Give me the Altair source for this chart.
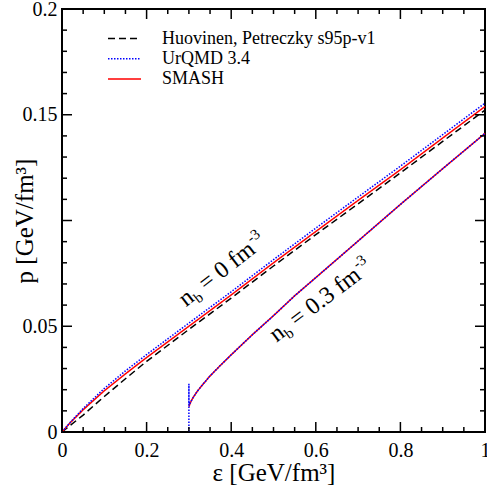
import altair as alt
import pandas as pd

# ---------------- data ----------------
series_names = ["Huovinen, Petreczky s95p-v1", "UrQMD 3.4", "SMASH"]
series_colors = ["#000000", "#0000ff", "#ff0000"]
series_dash = [[7, 4], [1.5, 1.5], [1, 0]]

# n_b = 0 fm^-3
eps0 = [0, 0.02, 0.05, 0.1, 0.15, 0.2, 0.3, 0.4, 0.5, 0.6, 0.7, 0.8, 0.9, 1.0]
p_huov0 = [0, 0.0032, 0.0080, 0.0168, 0.0252, 0.0334, 0.0485, 0.0633, 0.0785, 0.0933, 0.1079, 0.1225, 0.1374, 0.1522]
p_urqmd0 = [0, 0.0047, 0.0111, 0.0206, 0.0289, 0.0366, 0.0515, 0.0663, 0.0815, 0.0964, 0.1111, 0.1257, 0.1406, 0.1555]
p_smash0 = [0, 0.0045, 0.0105, 0.0195, 0.0275, 0.0352, 0.0500, 0.0648, 0.0800, 0.0948, 0.1095, 0.1240, 0.1390, 0.1539]

# n_b = 0.3 fm^-3
eps3_smash = [0.3, 0.305, 0.31, 0.32, 0.335, 0.35, 0.375, 0.4, 0.45, 0.5, 0.55, 0.6, 0.7, 0.8, 0.9, 1.0]
p3_smash = [0.012, 0.0145, 0.0163, 0.0193, 0.023, 0.0265, 0.0316, 0.0365, 0.046, 0.055, 0.0644, 0.073, 0.0903, 0.1076, 0.1245, 0.1412]
eps3_urqmd = [0.3, 0.3, 0.3, 0.305, 0.31, 0.32, 0.335, 0.35, 0.375, 0.4, 0.45, 0.5, 0.55, 0.6, 0.7, 0.8, 0.9, 1.0]
p3_urqmd = [0.0, 0.0228, 0.0125, 0.0145, 0.0163, 0.0193, 0.023, 0.0265, 0.0316, 0.0365, 0.046, 0.055, 0.0644, 0.073, 0.0903, 0.1076, 0.1245, 0.1412]

# ticks
x_major = [0, 0.2, 0.4, 0.6, 0.8, 1.0]
x_minor = [0.05, 0.1, 0.15, 0.25, 0.3, 0.35, 0.45, 0.5, 0.55, 0.65, 0.7, 0.75, 0.85, 0.9, 0.95]
y_major = [0, 0.05, 0.1, 0.15, 0.2]
y_minor = [0.01, 0.02, 0.03, 0.04, 0.06, 0.07, 0.08, 0.09, 0.11, 0.12, 0.13, 0.14,
           0.16, 0.17, 0.18, 0.19]

# curve label anchors (eps, p) and texts
lab0_pos = (0.293, 0.0590)
lab3_pos = (0.507, 0.0422)
lab0_main = "= 0 fm"
lab3_main = "= 0.3 fm"

# ---------------- build ----------------
W, H = 423, 423
FONT = "Liberation Serif"

rows = []
def add(eps, ps, s, c):
    for i, (e, p) in enumerate(zip(eps, ps)):
        rows.append({"eps": e, "p": p, "series": s, "curve": c, "idx": i})

add(eps0, p_huov0, series_names[0], "nb0")
add(eps0, p_urqmd0, series_names[1], "nb0")
add(eps0, p_smash0, series_names[2], "nb0")
add(eps3_smash, p3_smash, series_names[2], "nb3")
add(eps3_urqmd, p3_urqmd, series_names[1], "nb3")
df = pd.DataFrame(rows)

xs = alt.Scale(domain=[0, 1], nice=False, zero=False)
ys = alt.Scale(domain=[0, 0.2], nice=False, zero=False)

x_axis = alt.Axis(values=x_major, labelExpr="format(datum.value, '~g')", ticks=False, tickSize=0,
                  domain=False, grid=False, labelFlush=False, labelPadding=8,
                  labelFont=FONT, labelFontSize=20, labelColor="black",
                  title="ε [GeV/fm³]", titleFont=FONT, titleFontSize=25, titleFontWeight="normal",
                  titleColor="black", titleX=W / 2, titleY=48, titleAlign="center",
                  titleBaseline="alphabetic")
y_axis = alt.Axis(values=y_major, labelExpr="datum.value == 0.1 ? '' : format(datum.value, '~g')",
                  ticks=False, tickSize=0, domain=False, grid=False, labelPadding=5,
                  labelFont=FONT, labelFontSize=20, labelColor="black",
                  title="p [GeV/fm³]", titleFont=FONT, titleFontSize=25, titleFontWeight="normal",
                  titleColor="black", titleX=-38, titleY=H / 2, titleAngle=270, titleAlign="center",
                  titleBaseline="middle")

color_scale = alt.Scale(domain=series_names, range=series_colors)
dash_scale = alt.Scale(domain=series_names, range=series_dash)

X = lambda f: alt.X(f, scale=xs, axis=x_axis)
Y = lambda f: alt.Y(f, scale=ys, axis=y_axis)

layers = []
for s in [series_names[0], series_names[2], series_names[1]]:
    layers.append(
        alt.Chart(df).transform_filter(alt.datum.series == s).mark_line(strokeWidth=1.5).encode(
            x=X("eps:Q"),
            y=Y("p:Q"),
            color=alt.Color("series:N", scale=color_scale, legend=None),
            strokeDash=alt.StrokeDash("series:N", scale=dash_scale, legend=None),
            detail="curve:N",
            order="idx:Q",
        )
    )

# legend (drawn by hand, top-left inside the frame)
leg_layers = []
for i, s in enumerate(series_names):
    d = pd.DataFrame({"series": [s]})
    yy = 29.5 + 20.3 * i
    leg_layers.append(alt.Chart(d).mark_rule(strokeWidth=1.5).encode(
        x=alt.value(46), x2=alt.value(79), y=alt.value(yy),
        color=alt.Color("series:N", scale=color_scale, legend=None),
        strokeDash=alt.StrokeDash("series:N", scale=dash_scale, legend=None)))
    leg_layers.append(alt.Chart(d).mark_text(font=FONT, fontSize=18, align="left", baseline="middle",
                                             color="black").encode(
        x=alt.value(100), y=alt.value(yy), text="series:N"))

# ticks (inward, on all four sides)
def xticks(vals, length):
    d = pd.DataFrame({"v": vals})
    bot = alt.Chart(d).mark_rule(color="black", strokeWidth=1.5).encode(
        x=X("v:Q"), y=alt.value(H), y2=alt.value(H - length))
    top = alt.Chart(d).mark_rule(color="black", strokeWidth=1.5).encode(
        x=X("v:Q"), y=alt.value(0), y2=alt.value(length))
    return [bot, top]

def yticks(vals, length):
    d = pd.DataFrame({"v": vals})
    lef = alt.Chart(d).mark_rule(color="black", strokeWidth=1.5).encode(
        y=Y("v:Q"), x=alt.value(0), x2=alt.value(length))
    rig = alt.Chart(d).mark_rule(color="black", strokeWidth=1.5).encode(
        y=Y("v:Q"), x=alt.value(W), x2=alt.value(W - length))
    return [lef, rig]

tick_layers = xticks(x_major, 10) + xticks(x_minor, 5) + yticks(y_major, 10) + yticks(y_minor, 5)

# curve labels built from pieces (n, subscript b, main text, superscript -3)
def label(pos, main, angle, fs=24, fss=15):
    d = pd.DataFrame({"eps": [pos[0]], "p": [pos[1]]})
    base = alt.Chart(d)
    wn = 0.5 * fs
    wb = 0.5 * fss
    sp = 0.25 * fs
    widths = {" ": 0.25, "=": 0.564, "0": 0.5, ".": 0.25, "3": 0.5, "f": 0.333, "m": 0.778}
    wm = sum(widths[c] for c in main) * fs
    pieces = [("n", 0, 0, fs), ("b", wn, 5, fss), (main, wn + wb + sp, 0, fs),
              ("-3", wn + wb + sp + wm + 1, -10, fss)]
    out = []
    for txt, dx, dy, size in pieces:
        out.append(base.mark_text(text=txt, font=FONT, fontSize=size, angle=angle, align="left",
                                  baseline="alphabetic", dx=dx, dy=dy, color="black").encode(
            x=X("eps:Q"), y=Y("p:Q")))
    return out

label_layers = label(lab0_pos, lab0_main, 322) + label(lab3_pos, lab3_main, 323)

chart = alt.layer(*layers, *tick_layers, *label_layers, *leg_layers).properties(
    width=W, height=H,
    autosize=alt.AutoSizeParams(type="none"),
    padding={"left": 62, "top": 9, "right": 2, "bottom": 54},
    background="white",
).configure_view(stroke="black", strokeWidth=2)

chart.save("out.html", embed_options={"renderer": "svg", "actions": False})
